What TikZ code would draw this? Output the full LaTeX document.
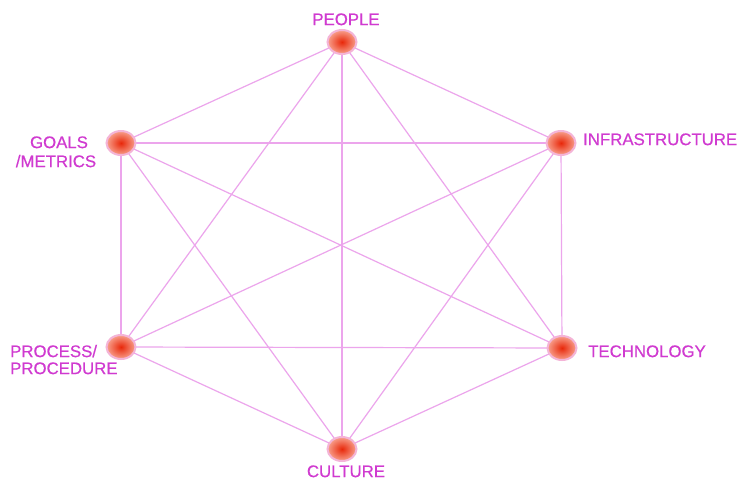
\documentclass[tikz,border=0pt]{standalone}
\usepackage{fontspec}
\setmainfont{Liberation Sans}[FakeBold=0.5]
\usetikzlibrary{shapes.geometric,backgrounds}
\definecolor{lbl}{RGB}{208,58,208}
\definecolor{edge}{RGB}{236,165,236}
\definecolor{dotin}{RGB}{232,40,10}
\definecolor{dotout}{RGB}{248,160,140}
\definecolor{ring}{RGB}{244,180,215}
\tikzset{
  hub/.style={ellipse, minimum width=29pt, minimum height=24pt, inner sep=0pt,
    inner color=dotin, outer color=dotout, draw=ring, line width=2pt},
  lab/.style={text=lbl, inner sep=0pt, font=\fontsize{16.8pt}{19pt}\selectfont, text height=12.2pt, text depth=0pt},
  link/.style={draw=edge, line width=1.2pt}
}
\begin{document}
\begin{tikzpicture}[x=1pt,y=-1pt]
\useasboundingbox (0,0) rectangle (740,480);
\node[hub] (people) at (342,42) {};
\node[hub] (goals) at (121,143) {};
\node[hub] (infra) at (561,143) {};
\node[hub] (process) at (121,347) {};
\node[hub] (tech) at (562,348) {};
\node[hub] (culture) at (342,449) {};
\begin{pgfonlayer}{background}
\fill[white] (0,0) rectangle (740,480);
\foreach \a/\b in {people/goals,people/infra,people/process,people/tech,people/culture,
  goals/infra,goals/process,goals/tech,goals/culture,
  infra/process,infra/tech,infra/culture,
  process/tech,process/culture,tech/culture}
  \draw[link] (\a.center) -- (\b.center);
\end{pgfonlayer}
\node[lab] (lpeople) at (346,19) {PEOPLE};
\node[lab] (lgoalsa) at (59,142) {GOALS};
\node[lab] (lgoalsb) at (56,161) {/METRICS};
\node[lab, anchor=west] (linfra) at (583,139) {INFRASTRUCTURE};
\node[lab, anchor=west] (lprocessa) at (10,351) {PROCESS/};
\node[lab, anchor=west] (lprocessb) at (10,368) {PROCEDURE};
\node[lab, anchor=west] (ltech) at (588,351) {TECHNOLOGY};
\node[lab] (lculture) at (346,471) {CULTURE};
\end{tikzpicture}
\end{document}
